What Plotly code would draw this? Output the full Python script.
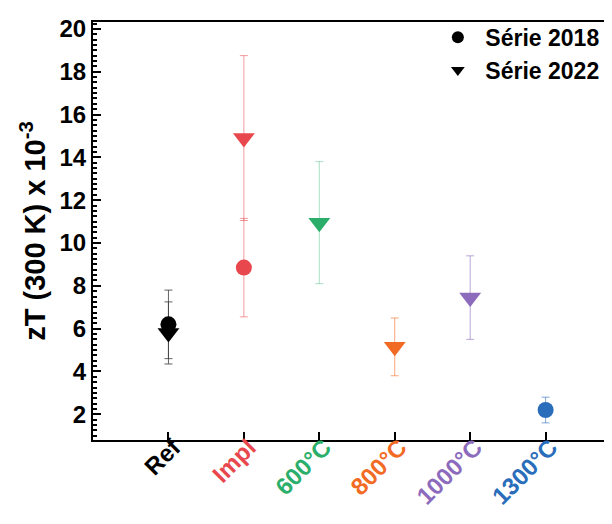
import plotly.graph_objects as go

categories = ["Ref", "Impl", "600°C", "800°C", "1000°C", "1300°C"]
cat_colors = ["#000000", "#E8484D", "#2BAE6A", "#F26B24", "#8C6BBD", "#2A6DBA"]
err_colors = ["rgba(60,60,60,0.8)", "rgba(232,72,77,0.55)", "rgba(43,174,106,0.4)",
              "rgba(242,107,36,0.6)", "rgba(140,107,189,0.6)", "rgba(42,109,186,0.6)"]

# Série 2018 (circles)
s2018_x = [1, 2, 6]
s2018_y = [6.2, 8.85, 2.2]
s2018_err = [1.6, 2.3, 0.6]
s2018_idx = [0, 1, 5]

# Série 2022 (down triangles)
s2022_x = [1, 2, 3, 4, 5]
s2022_y = [5.8, 14.9, 10.95, 5.15, 7.45]
s2022_err = [1.45, 3.85, 2.85, 1.35, 1.95]
s2022_idx = [0, 1, 2, 3, 4]

fig = go.Figure()

# error bars per point (individual colours)
for xs, ys, es, idx in [(s2018_x, s2018_y, s2018_err, s2018_idx),
                        (s2022_x, s2022_y, s2022_err, s2022_idx)]:
    for x, y, e, i in zip(xs, ys, es, idx):
        fig.add_trace(go.Scatter(
            x=[x], y=[y], mode="markers", marker=dict(size=1, opacity=0),
            error_y=dict(type="data", array=[e], color=err_colors[i], thickness=1, width=4),
            showlegend=False, hoverinfo="skip"))

fig.add_trace(go.Scatter(
    x=s2018_x, y=s2018_y, mode="markers", name="Série 2018",
    marker=dict(symbol="circle", size=16, color=[cat_colors[i] for i in s2018_idx], line=dict(width=0))))
fig.add_trace(go.Scatter(
    x=s2022_x, y=s2022_y, mode="markers", name="Série 2022",
    marker=dict(symbol="triangle-down", size=19, color=[cat_colors[i] for i in s2022_idx], line=dict(width=0))))

ticktext = [f'<span style="color:{c}">{t}</span>' for t, c in zip(categories, cat_colors)]

fig.update_layout(
    width=612, height=524,
    margin=dict(l=85, r=8, t=8, b=92),
    plot_bgcolor="white", paper_bgcolor="white",
    font=dict(family="Liberation Sans, Arial", size=24, color="black", weight="bold"),
    showlegend=True,
    legend=dict(x=0.65, xanchor="left", y=1.015, yanchor="top",
                font=dict(size=23, weight="bold"), bgcolor="rgba(0,0,0,0)",
                itemsizing="constant", tracegroupgap=0, itemwidth=45),
    xaxis=dict(range=[0, 6.88], tickvals=[1, 2, 3, 4, 5, 6], ticktext=ticktext,
               tickangle=-45, ticks="inside", ticklen=8, tickwidth=2, tickcolor="black",
               ticklabelstandoff=-18, ticklabelshift=5,
               showline=True, linewidth=2, linecolor="black", mirror=True, automargin=False,
               showgrid=False, zeroline=False, tickfont=dict(size=24, weight="bold")),
    yaxis=dict(range=[0.8, 20.32], tickvals=[2, 4, 6, 8, 10, 12, 14, 16, 18, 20],
               ticks="inside", ticklen=8, tickwidth=2, tickcolor="black",
               minor=dict(ticks="inside", ticklen=4, tickwidth=1.5, tickcolor="black", dtick=0.25, tick0=0),
               showline=True, linewidth=2, linecolor="black", automargin=False,
               showgrid=False, zeroline=False, tickfont=dict(size=24, weight="bold")),
)
fig.update_yaxes(title=dict(text="zT (300 K) x 10<sup>-3</sup>", font=dict(size=29, weight="bold"), standoff=5))

fig.write_html("out.html")
